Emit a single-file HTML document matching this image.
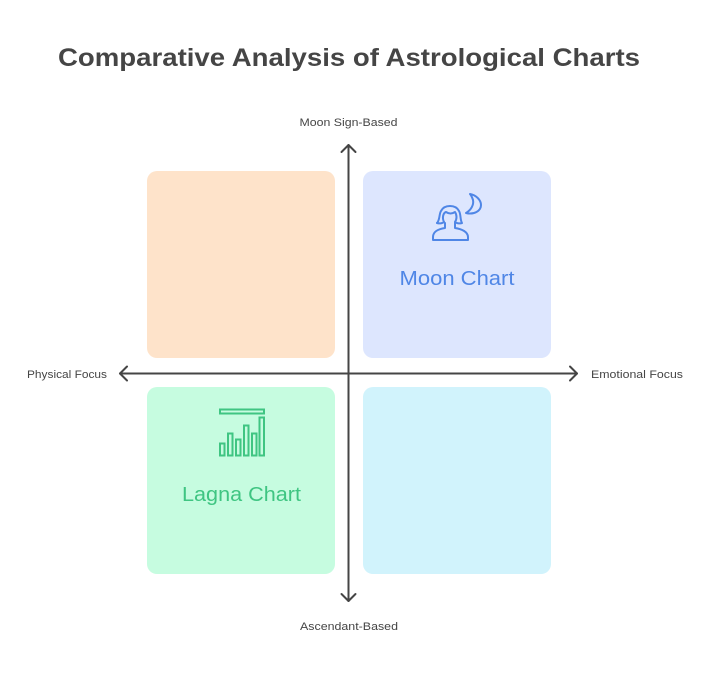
<!DOCTYPE html>
<html>
<head>
<meta charset="utf-8">
<style>
  html,body{margin:0;padding:0;background:#fff;}
  body{width:710px;height:686px;overflow:hidden;}
  svg{display:block;}
  text{font-family:"Liberation Sans",sans-serif;}
</style>
</head>
<body>
<svg width="710" height="686" viewBox="0 0 710 686" xmlns="http://www.w3.org/2000/svg">
  <rect width="710" height="686" fill="#ffffff"/>
  <!-- Title -->
  <text x="349" y="66" text-anchor="middle" font-size="25" font-weight="bold" fill="#454545" textLength="582" lengthAdjust="spacingAndGlyphs">Comparative Analysis of Astrological Charts</text>

  <!-- Quadrant boxes -->
  <rect x="147" y="171" width="188" height="187" rx="10" ry="10" fill="#fee3ca"/>
  <rect x="363" y="171" width="188" height="187" rx="10" ry="10" fill="#dde6fe"/>
  <rect x="147" y="387" width="188" height="187" rx="10" ry="10" fill="#c6fce0"/>
  <rect x="363" y="387" width="188" height="187" rx="10" ry="10" fill="#d1f3fc"/>

  <!-- Axes -->
  <g stroke="#454545" stroke-width="2" fill="none" stroke-linecap="round" stroke-linejoin="round">
    <line x1="348.5" y1="145" x2="348.5" y2="601"/>
    <polyline points="341.5,152 348.5,145 355.5,152"/>
    <polyline points="341.5,594 348.5,601 355.5,594"/>
    <line x1="120" y1="373.5" x2="577" y2="373.5"/>
    <polyline points="127,366.5 120,373.5 127,380.5"/>
    <polyline points="570,366.5 577,373.5 570,380.5"/>
  </g>

  <!-- Axis labels -->
  <text x="348.5" y="126" text-anchor="middle" font-size="11" fill="#454545" textLength="98" lengthAdjust="spacingAndGlyphs">Moon Sign-Based</text>
  <text x="349" y="630" text-anchor="middle" font-size="11" fill="#454545" textLength="98" lengthAdjust="spacingAndGlyphs">Ascendant-Based</text>
  <text x="27" y="378" font-size="11" fill="#454545" textLength="80" lengthAdjust="spacingAndGlyphs">Physical Focus</text>
  <text x="591" y="378" font-size="11" fill="#454545" textLength="92" lengthAdjust="spacingAndGlyphs">Emotional Focus</text>

  <!-- Moon icon (person + crescent) -->
  <g stroke="#4f86e6" stroke-width="2" fill="none" stroke-linecap="round" stroke-linejoin="round">
    <path d="M437,223 C440,220 439,214 441,211 C443,207 446,206 450,206 C454,206 457,207 459,211 C461,214 460,220 462,223 C459,224 456,223 455,222"/>
    <path d="M437,223 C440,224 443,223 444,222"/>
    <path d="M444,222 C442,218 443,213 446,212 C449,214 452,214 455,212 C457,215 457,219 455,222"/>
    <path d="M445,223 L445,228 C438,229 433,232 433,237 L433,240 L468,240 L468,237 C468,232 462,229 455,228 L455,223"/>
    <path d="M470,194 C476,195 481,200 481,205 C481,211 474,215 466,213 C471,210 474,205 473,200 C472,197 471,195 470,194 Z"/>
  </g>
  <text x="457" y="285" text-anchor="middle" font-size="20" fill="#4f86e6" textLength="115" lengthAdjust="spacingAndGlyphs">Moon Chart</text>

  <!-- Lagna icon (bar chart) -->
  <g stroke="#3fc582" stroke-width="2" fill="none">
    <rect x="220" y="409.5" width="44" height="4"/>
    <rect x="220" y="443.5" width="4.5" height="12"/>
    <rect x="228" y="433.5" width="4.5" height="22"/>
    <rect x="236" y="439.5" width="4.5" height="16"/>
    <rect x="244" y="425.5" width="4.5" height="30"/>
    <rect x="252" y="433.5" width="4.5" height="22"/>
    <rect x="259.5" y="417.5" width="4.5" height="38"/>
  </g>
  <text x="241.5" y="501" text-anchor="middle" font-size="20" fill="#3fc582" textLength="119" lengthAdjust="spacingAndGlyphs">Lagna Chart</text>
</svg>
</body>
</html>
